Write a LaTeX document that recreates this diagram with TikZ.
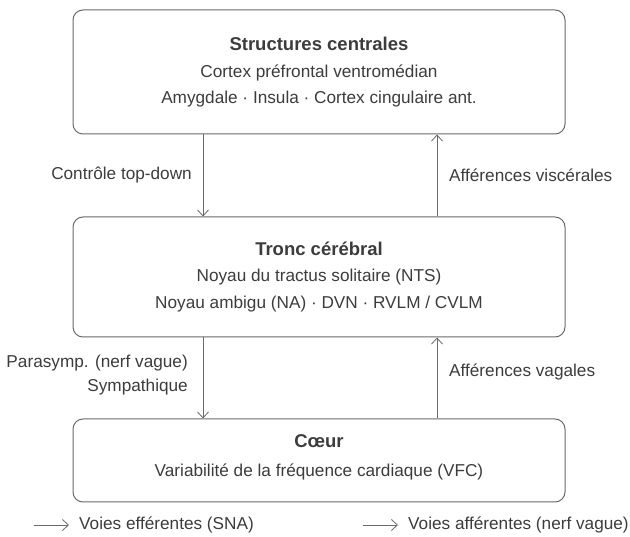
\documentclass[tikz,border=0pt]{standalone}
\usepackage{fontspec}
\setmainfont{Liberation Sans}
\usetikzlibrary{arrows.meta}

\definecolor{inkgray}{HTML}{3C3C3C}
\definecolor{linegray}{HTML}{6A6A6A}

\tikzset{
  box/.style={draw=linegray, line width=1pt, rounded corners=10pt, inner sep=0pt},
  title/.style={font=\fontsize{18.5}{22}\selectfont\bfseries, text=inkgray, inner sep=0pt},
  body/.style={font=\fontsize{17.2}{20}\selectfont, text=inkgray, inner sep=0pt},
  flow/.style={draw=linegray, line width=0.8pt, -{Straight Barb[length=6pt, width=11pt, line width=0.8pt]}}
}

\begin{document}
\begin{tikzpicture}[x=1pt, y=-1pt]
\useasboundingbox (0,0) rectangle (630,537);

% Boxes
\node[box, minimum width=492pt, minimum height=124pt] (TOP) at (319,72) {};
\node[box, minimum width=492pt, minimum height=120pt] (MID) at (319,277) {};
\node[box, minimum width=492pt, minimum height=83pt] (BOT) at (319,460.5) {};

% Box texts
\node[title] (T1) at (319,44) {Structures centrales};
\node[body] (T2) at (319,73) {Cortex préfrontal ventromédian};
\node[body] (T3) at (319,99) {Amygdale · Insula · Cortex cingulaire ant.};

\node[title] (M1) at (319,249) {Tronc cérébral};
\node[body] (M2) at (319,277) {Noyau du tractus solitaire (NTS)};
\node[body] (M3) at (319,304) {Noyau ambigu (NA) · DVN · RVLM / CVLM};

\node[title] (B1) at (319,441) {Cœur};
\node[body] (B2) at (319,472) {Variabilité de la fréquence cardiaque (VFC)};

% Connectors
\draw[flow] (TOP.south -| 203,0) -- (MID.north -| 203,0);
\draw[flow] (MID.north -| 437,0) -- (TOP.south -| 437,0);
\draw[flow] (MID.south -| 203,0) -- (BOT.north -| 203,0);
\draw[flow] (BOT.north -| 437,0) -- (MID.south -| 437,0);

% Labels
\node[body, anchor=east] (L1) at (192,175) {Contrôle top-down};
\node[body, anchor=west] (L2) at (449,175) {Afférences viscérales};
\node[body, anchor=east] (L3) at (188,363) {Parasymp. (nerf vague)};
\node[body, anchor=east] (L4) at (188,387) {Sympathique};
\node[body, anchor=west] (L5) at (449,372) {Afférences vagales};

% Legend
\coordinate (E0) at (34,525);
\coordinate (E1) at (69,525);
\draw[flow] (E0) -- (E1);
\node[body, anchor=west] (LE) at (79,525) {Voies efférentes (SNA)};
\coordinate (A0) at (363,525);
\coordinate (A1) at (398,525);
\draw[flow] (A0) -- (A1);
\node[body, anchor=west] (LA) at (408,525) {Voies afférentes (nerf vague)};
\end{tikzpicture}
\end{document}
